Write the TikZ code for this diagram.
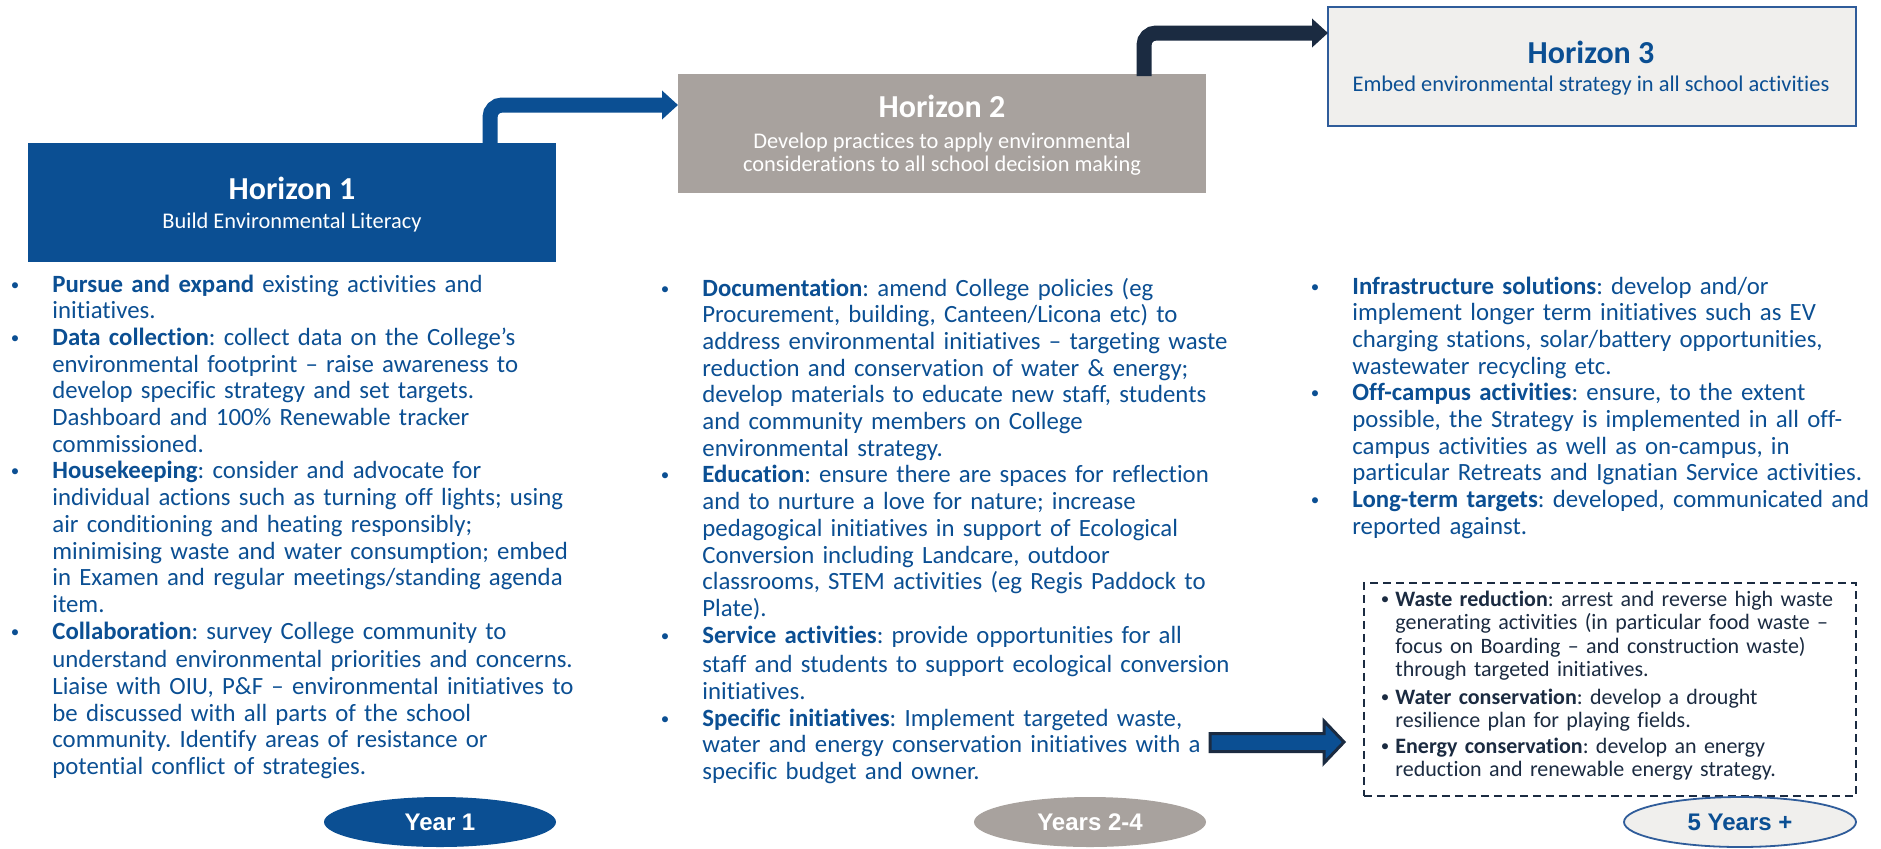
\documentclass[tikz,border=0pt]{standalone}
\usepackage{fontspec}
\setmainfont{Carlito}[Ligatures=NoCommon,Contextuals=NoAlternate]
\newfontfamily\yearfont{Liberation Sans}
\usepackage{xcolor}
\usetikzlibrary{arrows.meta}
\usetikzlibrary{shapes.geometric}

\definecolor{hblue}{RGB}{11,79,147}
\definecolor{hgrey}{RGB}{168,162,158}
\definecolor{hnavy}{RGB}{27,43,65}
\definecolor{hlight}{RGB}{240,239,237}
\definecolor{hframe}{RGB}{47,92,154}
\newcommand{\bul}[1]{\leavevmode\llap{\raisebox{1pt}{\fontsize{8.5}{8.5}\selectfont•}\hskip #1}}
\frenchspacing

\begin{document}
\begin{tikzpicture}[x=0.5pt,y=-0.5pt,
        hbox/.style={rectangle, minimum width=264pt, minimum height=59.5pt, inner sep=0pt, outer sep=0pt, anchor=north west},
        htitle/.style={anchor=base, inner sep=0pt, font=\fontsize{16}{16}\selectfont\bfseries},
        hsub/.style={anchor=base, inner sep=0pt, font=\fontsize{11.2}{11.2}\selectfont},
        bodytext/.style={anchor=base west, align=left, inner sep=0pt, text=hblue, font=\fontsize{12.4}{13.35}\selectfont},
        boxtext/.style={anchor=base west, align=left, inner sep=0pt, text=hnavy, font=\fontsize{11}{11.75}\selectfont},
        yearel/.style={ellipse, minimum width=116pt, minimum height=25pt, inner sep=0pt, font=\yearfont\fontsize{12}{12}\selectfont\bfseries},
        bendarrow/.style={line width=7.5pt, rounded corners=6pt, -{Triangle[length=8pt,width=14pt]}},
    ]
    \useasboundingbox (0,0) rectangle (1881,848);
    \fill[white] (0,0) rectangle (1881,848);
    % Horizon boxes
    \node[hbox,fill=hblue] (h1) at (28,143) {};
    \node[hbox,fill=hgrey] (h2) at (678,74) {};
    \node[hbox,fill=hlight,draw=hframe,line width=0.8pt] (h3) at (1328,7) {};
    \node[htitle,text=white] (h1t) at (292,199) {Horizon 1};
    \node[hsub,text=white] (h1s) at (292,228) {Build Environmental Literacy};
    \node[htitle,text=white] (h2t) at (942,117) {Horizon 2};
    \node[hsub,text=white] (h2s) at (942,148) {Develop practices to apply environmental};
    \node[hsub,text=white] (h2u) at (942,171) {considerations to all school decision making};
    \node[htitle,text=hblue] (h3t) at (1591,63) {Horizon 3};
    \node[hsub,text=hblue] (h3s) at (1591,91) {Embed environmental strategy in all school activities};
    % bent arrows
    \draw[bendarrow,hblue] ([xshift=-33pt,yshift=-1pt]h1.north east) |- ([yshift=-15.5pt]h2.north west);
    \draw[bendarrow,hnavy] ([xshift=-31pt,yshift=-1pt]h2.north east) |- ([yshift=-13pt]h3.north west);
    % Horizon 1 list
    \node[bodytext,text width=290pt] (col1) at (52,292) {%
        \bul{16.5pt}\textbf{Pursue and expand} existing activities and\\
        initiatives.\\
        \bul{16.5pt}\textbf{Data collection}: collect data on the College’s\\
        environmental footprint – raise awareness to\\
        develop specific strategy and set targets.\\
        Dashboard and 100\% Renewable tracker\\
        commissioned.\\
        \bul{16.5pt}\textbf{Housekeeping}: consider and advocate for\\
        individual actions such as turning off lights; using\\
        air conditioning and heating responsibly;\\
        minimising waste and water consumption; embed\\
        in Examen and regular meetings/standing agenda\\
        item.\\
        \bul{16.5pt}\textbf{Collaboration}: survey College community to\\[1pt]
        understand environmental priorities and concerns.\\
        Liaise with OIU, P\&F – environmental initiatives to\\
        be discussed with all parts of the school\\
        community. Identify areas of resistance or\\
        potential conflict of strategies.};
    % Horizon 2 list
    \node[bodytext,text width=300pt] (col2) at (702,296) {%
        \bul{16.5pt}\textbf{Documentation}: amend College policies (eg\\
        Procurement, building, Canteen/Licona etc) to\\
        address environmental initiatives – targeting waste\\
        reduction and conservation of water \& energy;\\
        develop materials to educate new staff, students\\
        and community members on College\\
        environmental strategy.\\
        \bul{16.5pt}\textbf{Education}: ensure there are spaces for reflection\\
        and to nurture a love for nature; increase\\
        pedagogical initiatives in support of Ecological\\
        Conversion including Landcare, outdoor\\
        classrooms, STEM activities (eg Regis Paddock to\\
        Plate).\\
        \bul{16.5pt}\textbf{Service activities}: provide opportunities for all\\[1.5pt]
        staff and students to support ecological conversion\\
        initiatives.\\
        \bul{16.5pt}\textbf{Specific initiatives}: Implement targeted waste,\\
        water and energy conservation initiatives with a\\
        specific budget and owner.};
    % Horizon 3 list
    \node[bodytext,text width=262pt] (col3) at (1352,294) {%
        \bul{16.5pt}\textbf{Infrastructure solutions}: develop and/or\\
        implement longer term initiatives such as EV\\
        charging stations, solar/battery opportunities,\\
        wastewater recycling etc.\\
        \bul{16.5pt}\textbf{Off-campus activities}: ensure, to the extent\\
        possible, the Strategy is implemented in all off-\\
        campus activities as well as on-campus, in\\
        particular Retreats and Ignatian Service activities.\\
        \bul{16.5pt}\textbf{Long-term targets}: developed, communicated and\\
        reported against.};
    % block arrow into the targets box
    \draw[fill=hblue,draw=hnavy,line width=1.5pt,line join=miter]
        (1210,733.5) -- (1324,733.5) -- (1324,721) -- (1344,742) -- (1324,763) -- (1324,751.5) -- (1210,751.5) -- cycle;
    % targets box
    \node[rectangle,draw=hnavy,dashed,dash pattern=on 4pt off 2.5pt,line width=0.8pt,
        minimum width=246pt,minimum height=106.5pt,inner sep=0pt,anchor=north west] (tbox) at (1363,582) {};
    \node[boxtext,text width=232pt] (ttext) at (1395,606) {%
        \bul{3pt}\textbf{Waste reduction}: arrest and reverse high waste\\
        generating activities (in particular food waste –\\
        focus on Boarding – and construction waste)\\
        through targeted initiatives.\\[2pt]
        \bul{3pt}\textbf{Water conservation}: develop a drought\\
        resilience plan for playing fields.\\[1pt]
        \bul{3pt}\textbf{Energy conservation}: develop an energy\\
        reduction and renewable energy strategy.};
    % time spans
    \node[yearel,fill=hblue,text=white] (y1) at (440,822) {Year 1};
    \node[yearel,fill=hgrey,text=white] (y2) at (1090,822) {Years 2-4};
    \node[yearel,fill=hlight,draw=hframe,line width=0.9pt,text=hblue] (y3) at (1740,822) {5 Years +};
\end{tikzpicture}
\end{document}
